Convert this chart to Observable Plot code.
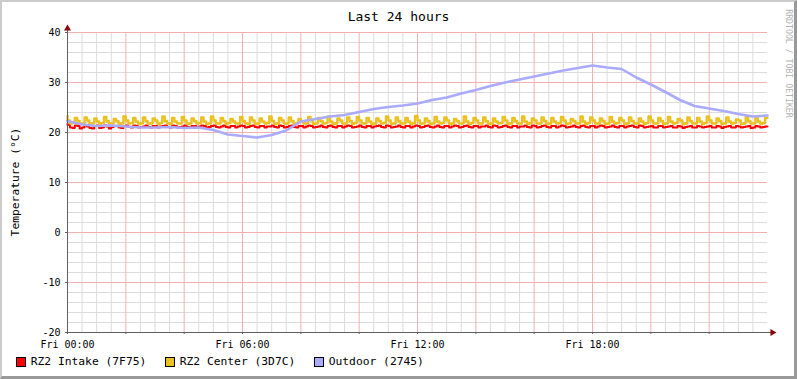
<!DOCTYPE html>
<html><head><meta charset="utf-8">
<script src="https://cdn.jsdelivr.net/npm/d3@7"></script>
<script src="https://cdn.jsdelivr.net/npm/@observablehq/plot@0.6"></script>
<style>
html,body{margin:0;padding:0;background:#fff;}
#chart{position:relative;width:797px;height:379px;background:#fff;font-family:"DejaVu Sans Mono",monospace;overflow:hidden;color:#000}
#frame{position:absolute;left:0;top:0;width:797px;height:379px;box-sizing:border-box;border-style:solid;border-width:2px 3px 3px 2px;border-color:#cbcbcb #999 #999 #cbcbcb;pointer-events:none}
#plot{position:absolute;left:0;top:0}
.t{position:absolute;white-space:nowrap}
#title{left:0;width:797px;text-align:center;top:10px;font-size:13px;line-height:13px}
#ylab{left:-84px;width:200px;text-align:center;top:175px;font-size:11.3px;line-height:14px;transform:rotate(-90deg)}
#wm{left:688px;width:200px;text-align:center;top:59px;font-size:8.2px;line-height:9px;color:#b4b4b4;transform:rotate(90deg)}
.sw{position:absolute;top:357px;width:10px;height:10px;box-sizing:border-box;border:1px solid #000}
.lg{top:356px;font-size:11.3px;line-height:12px}
</style>
</head><body>
<div id="chart"></div>
<script>
// ---- data ----
const titleText = "Last 24 hours";
const yLabelText = "Temperature (°C)";
const watermarkText = "RRDTOOL / TOBI OETIKER";
const seriesNames = ["RZ2 Intake (7F75)", "RZ2 Center (3D7C)", "Outdoor (2745)"];
const seriesColors = ["#ff0000", "#eac11f", "#aaaaff"];
const xTickHours = [0, 6, 12, 18];
const xTickLabels = ["Fri 00:00", "Fri 06:00", "Fri 12:00", "Fri 18:00"];
const yTicks = [-20, -10, 0, 10, 20, 30, 40];
const yTickLabels = ["-20", "-10", "0", "10", "20", "30", "40"];
const stepMinutes = 5;          // sampling step of intake / center
const outdoorStepMinutes = 30;  // sampling step of outdoor readings

const intake = [
21.8,21.5,21.0,20.9, 21.4,21.3,20.8,21.0, 21.5,21.2,20.9,20.8, 21.3,21.4,20.9,21.0, 21.4,21.2,20.8,21.1, 21.3,21.3,21.0,20.9,
21.3,21.4,21.1,21.0, 21.4,21.3,21.0,21.1, 21.2,21.4,21.1,21.0, 21.3,21.3,21.0,21.2, 21.3,21.4,21.1,21.0, 21.4,21.3,21.0,21.1,
21.2,21.4,21.1,21.0, 21.3,21.3,21.0,21.2, 21.4,21.3,21.0,21.1, 21.3,21.4,21.1,21.0, 21.2,21.4,21.1,21.0, 21.3,21.3,21.0,21.2,
21.4,21.3,21.0,21.1, 21.3,21.4,21.1,21.0, 21.3,21.3,21.0,21.2, 21.2,21.4,21.1,21.0, 21.4,21.3,21.0,21.1, 21.3,21.4,21.1,21.0,
21.3,21.3,21.0,21.2, 21.4,21.3,21.0,21.1, 21.2,21.4,21.1,21.0, 21.3,21.4,21.1,21.0, 21.3,21.3,21.0,21.2, 21.4,21.3,21.0,21.1,
21.2,21.4,21.1,21.0, 21.3,21.3,21.0,21.2, 21.3,21.4,21.1,21.0, 21.4,21.3,21.0,21.1, 21.2,21.4,21.1,21.0, 21.3,21.3,21.0,21.2,
21.4,21.3,21.0,21.1, 21.3,21.4,21.1,21.0, 21.2,21.4,21.1,21.0, 21.3,21.3,21.0,21.2, 21.4,21.3,21.0,21.1, 21.3,21.4,21.1,21.0,
21.3,21.3,21.0,21.2, 21.2,21.4,21.1,21.0, 21.4,21.3,21.0,21.1, 21.3,21.4,21.1,21.0, 21.3,21.3,21.0,21.2, 21.2,21.4,21.1,21.0,
21.4,21.3,21.0,21.1, 21.3,21.4,21.1,21.0, 21.3,21.3,21.0,21.2, 21.4,21.3,21.0,21.1, 21.2,21.4,21.1,21.0, 21.3,21.4,21.1,21.0,
21.3,21.3,21.0,21.2, 21.4,21.3,21.0,21.1, 21.2,21.4,21.1,21.0, 21.3,21.3,21.0,21.2, 21.3,21.4,21.1,21.0, 21.4,21.3,21.0,21.1,
21.2,21.3,21.0,21.0, 21.3,21.3,21.0,21.1, 21.2,21.3,21.0,21.0, 21.3,21.2,20.9,21.1, 21.2,21.3,21.0,21.0, 21.3,21.2,21.0,21.1,
21.2,21.3,21.0,21.0, 21.3,21.2,20.9,21.1, 21.2,21.3,21.0,21.0, 21.3,21.2,21.0,21.1, 21.2,21.3,20.9,21.0, 21.3,21.2,21.0,21.1,
21.2
];

const center = [
23.3,22.4,21.8,21.9, 22.9,22.3,21.7,21.8, 23.0,22.4,21.8,21.8, 22.8,22.2,21.7,21.9, 23.1,22.3,21.8,21.8, 22.7,22.3,21.7,21.8,
23.2,22.4,21.8,21.9, 22.9,22.2,21.7,21.8, 23.0,22.3,21.8,21.8, 22.8,22.4,21.7,21.9, 23.2,22.3,21.8,21.7, 22.9,22.2,21.8,21.8,
23.1,22.4,21.7,21.8, 22.8,22.3,21.8,21.9, 23.0,22.2,21.7,21.8, 23.2,22.4,21.8,21.8, 22.9,22.3,21.7,21.9, 22.7,22.2,21.8,21.8,
23.1,22.3,21.8,21.7, 23.0,22.4,21.7,21.8, 22.8,22.2,21.8,21.9, 23.2,22.3,21.7,21.8, 22.9,22.4,21.8,21.8, 23.0,22.3,21.7,21.9,
22.7,22.2,21.8,21.8, 23.1,22.4,21.7,21.8, 22.9,22.3,21.8,21.9, 23.2,22.2,21.7,21.8, 22.8,22.4,21.8,21.8, 23.0,22.3,21.7,21.9,
23.1,22.4,21.8,21.8, 22.9,22.2,21.7,21.8, 22.8,22.3,21.8,21.9, 23.2,22.4,21.7,21.8, 23.0,22.3,21.8,21.8, 22.9,22.2,21.7,21.9,
23.3,22.4,21.8,21.8, 22.8,22.3,21.7,21.8, 23.1,22.2,21.8,21.9, 23.0,22.4,21.7,21.8, 22.7,22.3,21.8,21.8, 23.2,22.2,21.7,21.9,
22.9,22.4,21.8,21.8, 23.0,22.3,21.7,21.8, 22.8,22.2,21.8,21.9, 23.1,22.4,21.7,21.8, 22.9,22.3,21.8,21.8, 23.2,22.2,21.7,21.9,
22.8,22.4,21.8,21.8, 23.0,22.3,21.7,21.8, 22.9,22.2,21.8,21.9, 23.1,22.4,21.7,21.8, 22.7,22.3,21.8,21.8, 23.2,22.2,21.7,21.9,
23.0,22.4,21.8,21.8, 22.8,22.3,21.7,21.8, 23.1,22.2,21.8,21.9, 22.9,22.4,21.7,21.8, 23.0,22.3,21.8,21.8, 22.8,22.2,21.7,21.9,
23.2,22.4,21.8,21.8, 22.9,22.3,21.7,21.8, 23.1,22.2,21.8,21.9, 22.7,22.4,21.7,21.8, 23.0,22.3,21.8,21.8, 22.9,22.2,21.7,21.9,
23.2,22.4,21.8,21.8, 22.8,22.3,21.7,21.8, 23.0,22.2,21.8,21.9, 22.6,22.4,21.7,21.8, 23.1,22.3,21.8,21.8, 22.9,22.2,21.7,21.9,
22.9
];

const outdoor = [
22.3,21.6,21.3,21.4,21.2,21.0,21.0,21.1,20.9,21.0,
20.5,19.6,19.3,19.0,19.5,20.4,22.2,22.7,23.2,23.5,
24.1,24.7,25.1,25.4,25.8,26.5,27.0,27.8,28.5,29.3,
30.0,30.6,31.2,31.8,32.4,32.9,33.4,33.0,32.7,31.0,
29.6,28.1,26.5,25.3,24.8,24.3,23.7,23.2,23.4
];

// ---- build ----
const toRows = (arr, step) => arr.map((v, i) => ({h: i * step / 60, v}));
const intakeRows = toRows(intake, stepMinutes);
const centerRows = toRows(center, stepMinutes);
const outdoorRows = toRows(outdoor, outdoorStepMinutes);

const majorX = d3.range(2, 24, 2);
const minorX = d3.range(0.5, 24, 0.5).filter(h => h % 2 !== 0);
const majorY = [-10, 0, 10, 20, 30, 40];
const minorY = d3.range(-18, 40, 2).filter(v => v % 10 !== 0);
const axisTicksX = d3.range(0, 24, 2);
const xAxisEnd = 24.17;
const yAxisEnd = 40.8;

const axisColor = "#606060";
const arrowColor = "#8b0000";
const gridMinor = "#dcdcdc";
const gridMajor = "#f2b0b0";

const plot = Plot.plot({
  width: 797, height: 352,
  marginLeft: 67, marginRight: 30, marginTop: 32, marginBottom: 20,
  x: {domain: [0, 24], axis: null},
  y: {domain: [-20, 40], axis: null},
  style: {fontFamily: "DejaVu Sans Mono", fontSize: "10px", background: "transparent", overflow: "visible", color: "#000"},
  marks: [
    Plot.ruleX(minorX, {stroke: gridMinor}),
    Plot.ruleY(minorY, {stroke: gridMinor}),
    Plot.ruleX(majorX, {stroke: gridMajor}),
    Plot.ruleY(majorY, {stroke: gridMajor}),
    Plot.line(intakeRows, {x: "h", y: "v", stroke: seriesColors[0], strokeWidth: 2, curve: "step-before"}),
    Plot.line(centerRows, {x: "h", y: "v", stroke: seriesColors[1], strokeWidth: 2.3, curve: "step-before"}),
    Plot.line(outdoorRows, {x: "h", y: "v", stroke: seriesColors[2], strokeWidth: 2.6}),
    Plot.ruleX([0], {y1: -20, y2: yAxisEnd, stroke: axisColor}),
    Plot.ruleY([-20], {x1: 0, x2: xAxisEnd, stroke: axisColor}),
    Plot.dot([{x: 0, y: yAxisEnd}], {x: "x", y: "y", symbol: "triangle", r: 2.6, fill: arrowColor, stroke: "none"}),
    Plot.dot([{x: xAxisEnd, y: -20}], {x: "x", y: "y", symbol: "triangle", r: 2.6, rotate: 90, fill: arrowColor, stroke: "none"}),
    Plot.axisY(yTicks, {tickSize: 2, tickPadding: 5, stroke: axisColor, fill: "#000", label: null,
      tickFormat: v => yTickLabels[yTicks.indexOf(v)]}),
    Plot.axisX(axisTicksX, {tickSize: 2, tickPadding: 6, stroke: axisColor, fill: "#000", label: null,
      tickFormat: h => { const k = xTickHours.indexOf(h); return k >= 0 ? xTickLabels[k] : ""; }})
  ]
});
plot.id = "plot";

const chart = document.getElementById("chart");
chart.appendChild(plot);

function addText(id, cls, txt) {
  const d = document.createElement("div");
  if (id) d.id = id;
  d.className = "t " + (cls || "");
  d.textContent = txt;
  chart.appendChild(d);
  return d;
}
addText("title", "", titleText);
addText("ylab", "", yLabelText);
addText("wm", "", watermarkText);
seriesNames.forEach((name, i) => {
  const sw = document.createElement("div");
  sw.className = "sw";
  sw.style.left = (16 + i * 149) + "px";
  sw.style.background = seriesColors[i];
  chart.appendChild(sw);
  const t = addText(null, "lg", name);
  t.style.left = (30.7 + i * 149) + "px";
});
const frame = document.createElement("div");
frame.id = "frame";
chart.appendChild(frame);
</script>
</body></html>
